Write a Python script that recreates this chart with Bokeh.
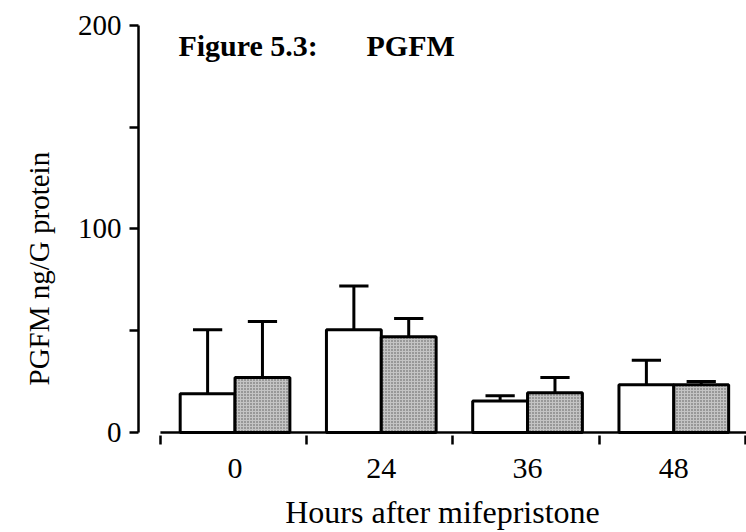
from bokeh.plotting import figure
from bokeh.models import Range1d, FixedTicker, Label, LinearAxis, ColumnDataSource, Title
from bokeh.embed import file_html
from bokeh.resources import INLINE

# ---- data ----
hours = ["0", "24", "36", "48"]
open_mean = [19, 50.5, 15.5, 23.5]
open_sem = [31.5, 21.5, 2.5, 12]
shaded_mean = [27, 47, 19.5, 23.5]
shaded_sem = [27.5, 9, 7.5, 1.5]
y_ticks = [0, 100, 200]
y_minor = [50, 150]

FONT = "Liberation Serif"
n = len(hours)
bw = 0.375
centers = [i + 0.51 for i in range(n)]
x_open = [c - bw / 2 for c in centers]
x_shaded = [c + bw / 2 for c in centers]

p = figure(width=746, height=532, output_backend="svg", toolbar_location=None,
           x_range=Range1d(-0.15, 4.007), y_range=Range1d(-1.5, 200),
           x_axis_type=None, y_axis_type=None)
p.min_border_left = 138
p.min_border_right = 0
p.min_border_top = 25
p.min_border_bottom = 97
p.outline_line_color = None
p.xgrid.visible = False
p.ygrid.visible = False
p.background_fill_color = "white"
p.border_fill_color = "white"

# y axis
yax = LinearAxis(ticker=FixedTicker(ticks=y_ticks, minor_ticks=y_minor), bounds=(0, 200))
yax.axis_line_width = 2.5
yax.major_tick_line_width = 2.5
yax.minor_tick_line_width = 2.5
yax.major_tick_in = 0
yax.major_tick_out = 9
yax.minor_tick_in = 0
yax.minor_tick_out = 9
yax.major_label_standoff = 8
yax.major_label_text_font = FONT
yax.major_label_text_font_size = "29px"
yax.major_label_text_color = "black"
p.add_layout(yax, "left")

# y axis title, placed lower than centre as in the reference
ytitle = Title(text="PGFM ng/G protein", align="left", offset=50, standoff=36,
               vertical_align="top",
               text_font=FONT, text_font_size="29px", text_font_style="normal",
               text_color="black")
p.add_layout(ytitle, "left")

# x axis: boundary ticks as minor ticks, hour labels at group centers
xax = LinearAxis(ticker=FixedTicker(ticks=centers, minor_ticks=list(range(n + 1))),
                 major_label_overrides={c: h for c, h in zip(centers, hours)})
xax.axis_line_color = None
xax.major_tick_line_color = None
xax.major_tick_out = 0
xax.minor_tick_in = 0
xax.minor_tick_out = 9
xax.minor_tick_line_width = 2.5
xax.major_label_standoff = 14
xax.major_label_text_font = FONT
xax.major_label_text_font_size = "30px"
xax.major_label_text_color = "black"
xax.axis_label = "Hours after mifepristone"
xax.axis_label_text_font = FONT
xax.axis_label_text_font_size = "32px"
xax.axis_label_text_font_style = "normal"
xax.axis_label_standoff = 13
xax.axis_label_text_color = "black"
p.add_layout(xax, "below")

# x baseline (starts at first category boundary)
p.segment(x0=[0], y0=[0], x1=[n + 0.007], y1=[0], line_color="black", line_width=2.5)

# error bars (upper only)
src_o = ColumnDataSource(dict(x=x_open, m=open_mean,
                              t=[m + s for m, s in zip(open_mean, open_sem)]))
src_s = ColumnDataSource(dict(x=x_shaded, m=shaded_mean,
                              t=[m + s for m, s in zip(shaded_mean, shaded_sem)]))
cap = 0.1
for src in (src_o, src_s):
    p.segment(x0="x", y0="m", x1="x", y1="t", source=src, line_color="black", line_width=3)
    d = src.data
    p.segment(x0=[x - cap for x in d["x"]], y0=d["t"], x1=[x + cap for x in d["x"]], y1=d["t"],
              line_color="black", line_width=3)

# bars
p.vbar(x="x", top="m", bottom=0, width=bw, source=src_o,
       fill_color="white", line_color="black", line_width=3)
p.vbar(x="x", top="m", bottom=0, width=bw, source=src_s,
       fill_color="#c4c4c4", hatch_pattern="dot", hatch_color="#555555",
       hatch_scale=3, hatch_weight=1.3, line_color="black", line_width=3)

# title
p.add_layout(Label(x=0.123, y=190.2, text="Figure 5.3:", text_font=FONT,
                   text_font_size="30px", text_font_style="bold", text_color="black",
                   text_baseline="alphabetic", text_align="left"))
p.add_layout(Label(x=1.409, y=190.2, text="PGFM", text_font=FONT,
                   text_font_size="30px", text_font_style="bold", text_color="black",
                   text_baseline="alphabetic", text_align="left"))

open("out.html", "w").write(file_html(p, INLINE))
